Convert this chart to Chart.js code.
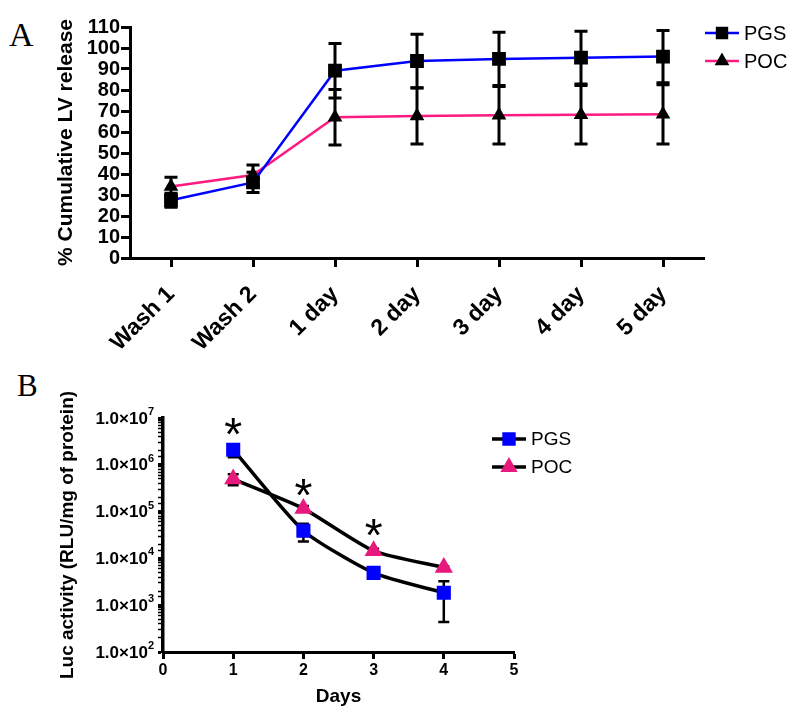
<!DOCTYPE html>
<html>
<head>
<meta charset="utf-8">
<script src="https://cdn.jsdelivr.net/npm/chart.js@4/dist/chart.umd.min.js"></script>
<style>
body { margin: 0; background: #fff; width: 800px; height: 716px; position: relative; overflow: hidden; }
canvas { position: absolute; left: 0; }
#canvasA { top: 0; }
#canvasB { top: 360px; }
.panel { position: absolute; font-family: "Liberation Serif", "Times New Roman", serif; color: #000; line-height: 1; }
</style>
</head>
<body>
<div class="panel" style="left:9px; top:18px; font-size:34px;">A</div>
<div class="panel" style="left:17px; top:370px; font-size:31px;">B</div>
<canvas id="canvasA" width="800" height="360"></canvas>
<canvas id="canvasB" width="800" height="356"></canvas>
<script>
// panel A data
var releaseLabels = ['Wash 1', 'Wash 2', '1 day', '2 day', '3 day', '4 day', '5 day'];
var pgsRelease = [27.5, 36, 89.2, 93.8, 94.8, 95.4, 95.9];
var pgsReleaseErr = [3.3, 4.8, 13, 12.7, 12.7, 12.6, 12.4];
var pocRelease = [34, 39.5, 67, 67.6, 68, 68.2, 68.4];
var pocReleaseErr = [4.5, 4.8, 13.2, 13.3, 13.7, 13.9, 14.1];

// panel B data
var lucDays = [1, 2, 3, 4];
var pgsLuc = [2.1e6, 3.9e4, 4.9e3, 1.84e3];
var pgsLucErr = [6.5e5, 1.6e4, 6e2, 1.4e3];
var pocLuc = [4.95e5, 1.16e5, 1.45e4, 6.4e3];
var pocLucErr = [1.3e5, 1.5e4, 1.5e3, 4e2];
var starDays = [1, 2, 3];
var starLevels = [6.5e6, 3.2e5, 4.6e4];

Chart.defaults.font.family = '"Liberation Sans", Arial, sans-serif';
Chart.defaults.color = '#000';

// error bars drawn through the scales
var errorBars = {
    id: 'errorBars',
    beforeDatasetsDraw: function(chart, args, opts){
        var ctx = chart.ctx;
        var yScale = chart.scales.y;
        ctx.save();
        ctx.strokeStyle = '#000';
        ctx.lineWidth = opts.width;
        chart.data.datasets.forEach(function(ds, di){
            var meta = chart.getDatasetMeta(di);
            meta.data.forEach(function(pt, i){
                var v = ds.data[i];
                v = (typeof v === 'object') ? v.y : v;
                var e = ds.errors[i];
                var yTop = yScale.getPixelForValue(v + e);
                var yBot = yScale.getPixelForValue(Math.max(v - e, yScale.min));
                var half = opts.cap / 2;
                ctx.beginPath();
                ctx.moveTo(pt.x, yTop); ctx.lineTo(pt.x, yBot);
                ctx.moveTo(pt.x - half, yTop); ctx.lineTo(pt.x + half, yTop);
                if (v - e > yScale.min) {
                    ctx.moveTo(pt.x - half, yBot); ctx.lineTo(pt.x + half, yBot);
                }
                ctx.stroke();
            });
        });
        ctx.restore();
    }
};

// legend drawn by hand so it sits where the original one does
var sideLegend = {
    id: 'sideLegend',
    afterDraw: function(chart, args, opts){
        var ctx = chart.ctx;
        ctx.save();
        chart.data.datasets.forEach(function(ds, i){
            var y = opts.y + i * opts.gap;
            ctx.strokeStyle = ds.borderColor;
            ctx.lineWidth = ds.borderWidth;
            ctx.beginPath();
            ctx.moveTo(opts.x, y);
            ctx.lineTo(opts.x + opts.lineLen, y);
            ctx.stroke();
            ctx.fillStyle = ds.pointBackgroundColor;
            ctx.strokeStyle = ds.pointBorderColor;
            Chart.helpers.drawPoint(ctx, {pointStyle: ds.pointStyle, radius: opts.radius[i], borderWidth: 1}, opts.x + opts.lineLen / 2, y);
            ctx.fillStyle = '#000';
            ctx.font = opts.font;
            ctx.textBaseline = 'middle';
            ctx.fillText(ds.label, opts.x + opts.lineLen + opts.textGap, y + 1);
        });
        ctx.restore();
    }
};

var stars = {
    id: 'stars',
    afterDatasetsDraw: function(chart, args, opts){
        var ctx = chart.ctx;
        ctx.save();
        ctx.font = opts.font;
        ctx.fillStyle = '#000';
        ctx.textAlign = 'center';
        ctx.textBaseline = 'alphabetic';
        var m = ctx.measureText('*');
        var shift = (m.actualBoundingBoxAscent - m.actualBoundingBoxDescent) / 2;
        for (var i = 0; i < starDays.length; i++){
            var x = chart.scales.x.getPixelForValue(starDays[i]);
            var y = chart.scales.y.getPixelForValue(starLevels[i]);
            ctx.fillText('*', x, y + shift);
        }
        ctx.restore();
    }
};

// "1.0x10^n" labels with a real raised exponent
var powerLabels = {
    id: 'powerLabels',
    afterDraw: function(chart, args, opts){
        var scale = chart.scales.y;
        var ctx = chart.ctx;
        ctx.save();
        ctx.fillStyle = '#000';
        ctx.textBaseline = 'middle';
        scale.ticks.forEach(function(t){
            var p = Math.log10(t.value);
            if (Math.abs(p - Math.round(p)) > 1e-6) return;
            var y = scale.getPixelForValue(t.value);
            var right = scale.right - opts.gap;
            var exp = String(Math.round(p));
            ctx.font = opts.expFont;
            var ew = ctx.measureText(exp).width;
            ctx.textAlign = 'left';
            ctx.fillText(exp, right - ew, y - opts.raise);
            ctx.font = opts.font;
            ctx.textAlign = 'right';
            ctx.fillText('1.0\u00d710', right - ew, y + 1);
        });
        ctx.restore();
    }
};

var chartA = new Chart(document.getElementById('canvasA'), {
    type: 'line',
    data: {
        labels: releaseLabels,
        datasets: [
            {
                label: 'PGS', data: pgsRelease, errors: pgsReleaseErr,
                borderColor: '#0000ff', borderWidth: 2.5, tension: 0,
                pointStyle: 'rect', pointRadius: 8, pointBackgroundColor: '#000', pointBorderColor: '#000'
            },
            {
                label: 'POC', data: pocRelease, errors: pocReleaseErr,
                borderColor: '#ff1a80', borderWidth: 2.5, tension: 0,
                pointStyle: 'triangle', pointRadius: 6, pointBackgroundColor: '#000', pointBorderColor: '#000'
            }
        ]
    },
    options: {
        responsive: false,
        animation: false,
        layout: { padding: { left: 0, right: 96, top: 27, bottom: 0 } },
        plugins: {
            legend: { display: false },
            tooltip: { enabled: false },
            errorBars: { width: 3, cap: 13 },
            sideLegend: { x: 705, y: 33, gap: 28, lineLen: 34, textGap: 5, radius: [7, 6], font: '20px "Liberation Sans", Arial, sans-serif' }
        },
        scales: {
            x: {
                offset: true,
                afterFit: function(s){ s.height = 102; },
                border: { color: '#000', width: 3 },
                grid: { display: true, drawOnChartArea: false, offset: false, tickLength: 9, tickWidth: 3, tickColor: '#000' },
                ticks: { color: '#000', minRotation: 45, maxRotation: 45, padding: 14, font: { size: 23, weight: 'bold' } }
            },
            y: {
                min: 0, max: 110,
                afterFit: function(s){ s.width = 130; },
                border: { color: '#000', width: 3 },
                grid: { display: true, drawOnChartArea: false, tickLength: 9, tickWidth: 3, tickColor: '#000' },
                ticks: { color: '#000', stepSize: 10, autoSkip: false, padding: 1, font: { size: 20, weight: 'bold' } },
                title: { display: true, text: '% Cumulative LV release', color: '#000', padding: { top: 54, bottom: 0 }, font: { size: 21, weight: 'bold' } }
            }
        }
    },
    plugins: [errorBars, sideLegend]
});

var chartB = new Chart(document.getElementById('canvasB'), {
    type: 'line',
    data: {
        datasets: [
            {
                label: 'PGS', data: lucDays.map(function(d, i){ return {x: d, y: pgsLuc[i]}; }), errors: pgsLucErr,
                borderColor: '#000', borderWidth: 3.5, tension: 0.2,
                pointStyle: 'rect', pointRadius: 7.5, pointBackgroundColor: '#0000ff', pointBorderColor: '#0000ff'
            },
            {
                label: 'POC', data: lucDays.map(function(d, i){ return {x: d, y: pocLuc[i]}; }), errors: pocLucErr,
                borderColor: '#000', borderWidth: 3.5, tension: 0.2,
                pointStyle: 'triangle', pointRadius: 7, pointBackgroundColor: '#e8197d', pointBorderColor: '#e8197d'
            }
        ]
    },
    options: {
        responsive: false,
        animation: false,
        layout: { padding: { left: 0, right: 286, top: 58, bottom: 0 } },
        plugins: {
            legend: { display: false },
            tooltip: { enabled: false },
            errorBars: { width: 2.5, cap: 11 },
            sideLegend: { x: 492, y: 79, gap: 28, lineLen: 34, textGap: 5, radius: [7, 6.5], font: '19px "Liberation Sans", Arial, sans-serif' },
            stars: { font: '46px "Liberation Sans", Arial, sans-serif' },
            powerLabels: { gap: 9, raise: 6, font: 'bold 17px "Liberation Sans", Arial, sans-serif', expFont: 'bold 11px "Liberation Sans", Arial, sans-serif' }
        },
        scales: {
            x: {
                type: 'linear', min: 0, max: 5,
                afterFit: function(s){ s.height = 64; },
                border: { color: '#000', width: 3 },
                grid: { display: true, drawOnChartArea: false, tickLength: 7, tickWidth: 3, tickColor: '#000' },
                ticks: { color: '#000', stepSize: 1, padding: 2, font: { size: 16, weight: 'bold' } },
                title: { display: true, text: 'Days', color: '#000', padding: { top: 0, bottom: 8 }, font: { size: 19, weight: 'bold' } }
            },
            y: {
                type: 'logarithmic', min: 100, max: 1e7,
                afterFit: function(s){ s.width = 163; },
                border: { color: '#000', width: 3.5 },
                grid: {
                    display: true, drawOnChartArea: false, tickLength: 5, tickColor: '#000',
                    tickWidth: function(c){ return c.tick && c.tick.major ? 3 : 1.5; }
                },
                afterBuildTicks: function(s){
                    s.ticks.forEach(function(t){ t.major = Number.isInteger(Math.round(Math.log10(t.value) * 1000) / 1000); });
                },
                ticks: { display: false, autoSkip: false, major: { enabled: true } },
                title: { display: true, text: 'Luc activity (RLU/mg of protein)', color: '#000', padding: { top: 56, bottom: 0 }, font: { size: 19, weight: 'bold' } }
            }
        }
    },
    plugins: [errorBars, sideLegend, stars, powerLabels]
});
</script>
</body>
</html>
